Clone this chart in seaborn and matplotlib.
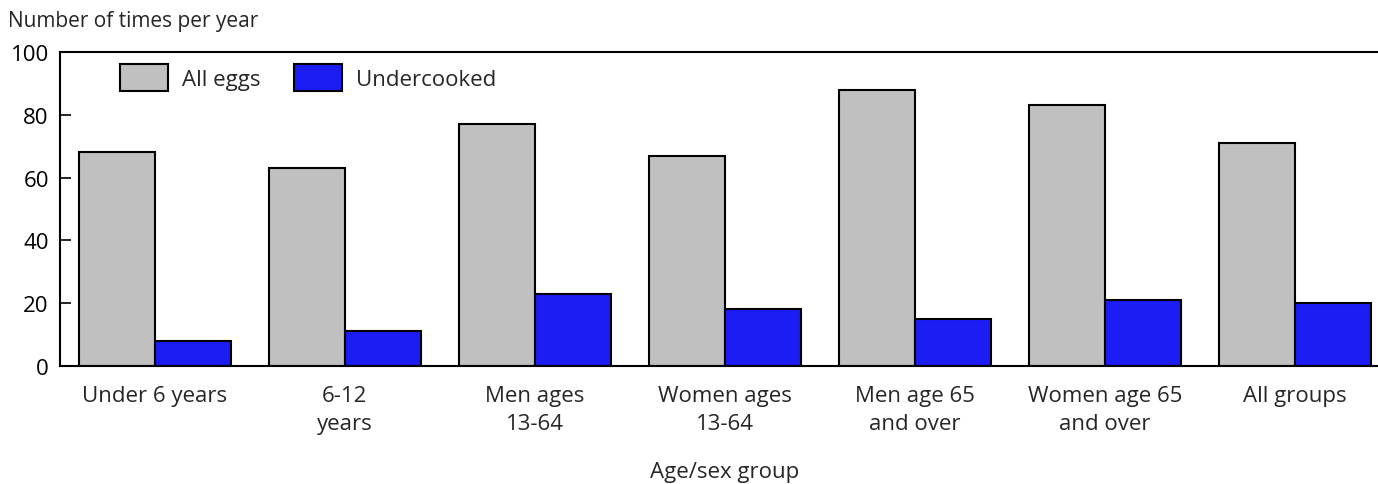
import pandas as pd
import seaborn as sns
import matplotlib.pyplot as plt

# Values
groups = ['Under 6 years', '6-12\nyears', 'Men ages\n13-64', 'Women ages\n13-64',
          'Men age 65\nand over', 'Women age 65\nand over', 'All groups']
all_eggs = [68, 63, 77, 67, 88, 83, 71]
undercooked = [8, 11, 23, 18, 15, 21, 20]
series = ['All eggs', 'Undercooked']
colors = ['#c0c0c0', '#1c1cf5']

df = pd.DataFrame({
    'group': groups * 2,
    'series': [series[0]] * len(groups) + [series[1]] * len(groups),
    'value': all_eggs + undercooked,
})

sns.set_style('white')
plt.rcParams['font.family'] = ['Open Sans', 'DejaVu Sans']

fig = plt.figure(figsize=(13.78, 4.85), dpi=100)
ax = fig.add_axes([0.0435, 0.2433, 0.965, 0.6474])

sns.barplot(data=df, x='group', y='value', hue='series', palette=colors,
            width=0.8, edgecolor='black', linewidth=1.5, saturation=1, ax=ax)

ax.set_xlim(-0.5, 6.5)
ax.set_ylim(0, 100)
ax.set_yticks([0, 20, 40, 60, 80, 100])
ax.tick_params(axis='y', direction='in', length=8, width=1.2, left=True,
               labelsize=16, pad=8, colors='black')
ax.tick_params(axis='x', length=0, labelsize=16, pad=14)
for lab in ax.get_xticklabels():
    lab.set_linespacing(1.4)

for side in ['left', 'top', 'bottom']:
    ax.spines[side].set_visible(True)
    ax.spines[side].set_linewidth(1.5)
    ax.spines[side].set_color('black')
ax.spines['right'].set_visible(False)

# x label placed explicitly, well below the two-line tick labels
ax.set_xlabel('Age/sex group', fontsize=16, va='center')
ax.xaxis.set_label_coords(0.5, -0.335)
ax.set_ylabel('')
fig.text(0.006, 0.955, 'Number of times per year', fontsize=15, va='center')

ax.legend(loc='upper left', bbox_to_anchor=(0.045, 0.962), ncol=2, frameon=False,
          fontsize=16, handlelength=2.15, handleheight=1.5, columnspacing=1.5,
          handletextpad=0.65, borderpad=0, borderaxespad=0)

fig.savefig('out.png', dpi=100)
